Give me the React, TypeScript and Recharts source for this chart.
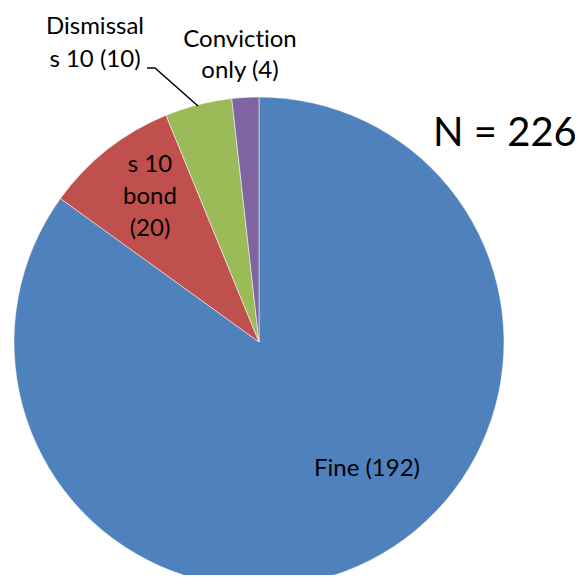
import { Cell, Pie, PieChart } from "recharts";

const CATEGORIES = ["Fine", "s 10 bond", "Dismissal s 10", "Conviction only"];
const COUNTS = [192, 20, 10, 4];
const COLORS = ["#4F81BD", "#C0504D", "#9BBB59", "#8064A2"];
// label lines as printed on the chart
const LABEL_LINES = [
  ["Fine (192)"],
  ["s 10", "bond", "(20)"],
  ["Dismissal", "s 10 (10)"],
  ["Conviction", "only (4)"],
];
const TOTAL_LABEL = "N = 226";

const FONT = "Lato, 'Open Sans', sans-serif";

// where each label sits, relative to the pie centre: [dx, first baseline dy, line step]
const LABEL_SPOTS: [number, number, number][] = [
  [108, 134, 32],
  [-109, -170, 32],
  [-164, -308, 33],
  [-19, -295, 31],
];

const data = CATEGORIES.map((name, i) => ({ name, value: COUNTS[i] }));

function renderLabel(props: any) {
  const { cx, cy, index } = props;
  const [dx, dy, step] = LABEL_SPOTS[index];
  const lines = LABEL_LINES[index];
  return (
    <g key={`lbl-${index}`}>
      {index === 2 && (
        <polyline
          points={`${cx - 112},${cy - 274} ${cx - 104},${cy - 274} ${cx - 61},${cy - 236}`}
          fill="none"
          stroke="#000"
          strokeWidth={1.5}
        />
      )}
      {lines.map((t, j) => (
        <text
          key={j}
          x={cx + dx}
          y={cy + dy + j * step}
          textAnchor="middle"
          fontFamily={FONT}
          fontSize={24}
          fill="#000"
          style={{ fontVariantLigatures: "none" }}
        >
          {t}
        </text>
      ))}
    </g>
  );
}

export default function App() {
  return (
    <div style={{ position: "relative", width: 583, height: 583, margin: -8, overflow: "hidden", background: "#fff" }}>
      <PieChart width={583} height={583} margin={{ top: 0, right: 0, bottom: 0, left: 0 }}>
        <Pie
          data={data}
          dataKey="value"
          nameKey="name"
          cx={259}
          cy={342}
          outerRadius={245}
          startAngle={90}
          endAngle={-270}
          stroke="#fff"
          strokeWidth={0.5}
          label={renderLabel}
          labelLine={false}
          isAnimationActive={false}
        >
          {data.map((d, i) => (
            <Cell key={d.name} fill={COLORS[i]} />
          ))}
        </Pie>
      </PieChart>
      <div
        style={{
          position: "absolute",
          left: 433,
          top: 111,
          fontFamily: FONT,
          fontSize: 40,
          lineHeight: 1,
          color: "#000",
          whiteSpace: "nowrap",
        }}
      >
        {TOTAL_LABEL}
      </div>
    </div>
  );
}
